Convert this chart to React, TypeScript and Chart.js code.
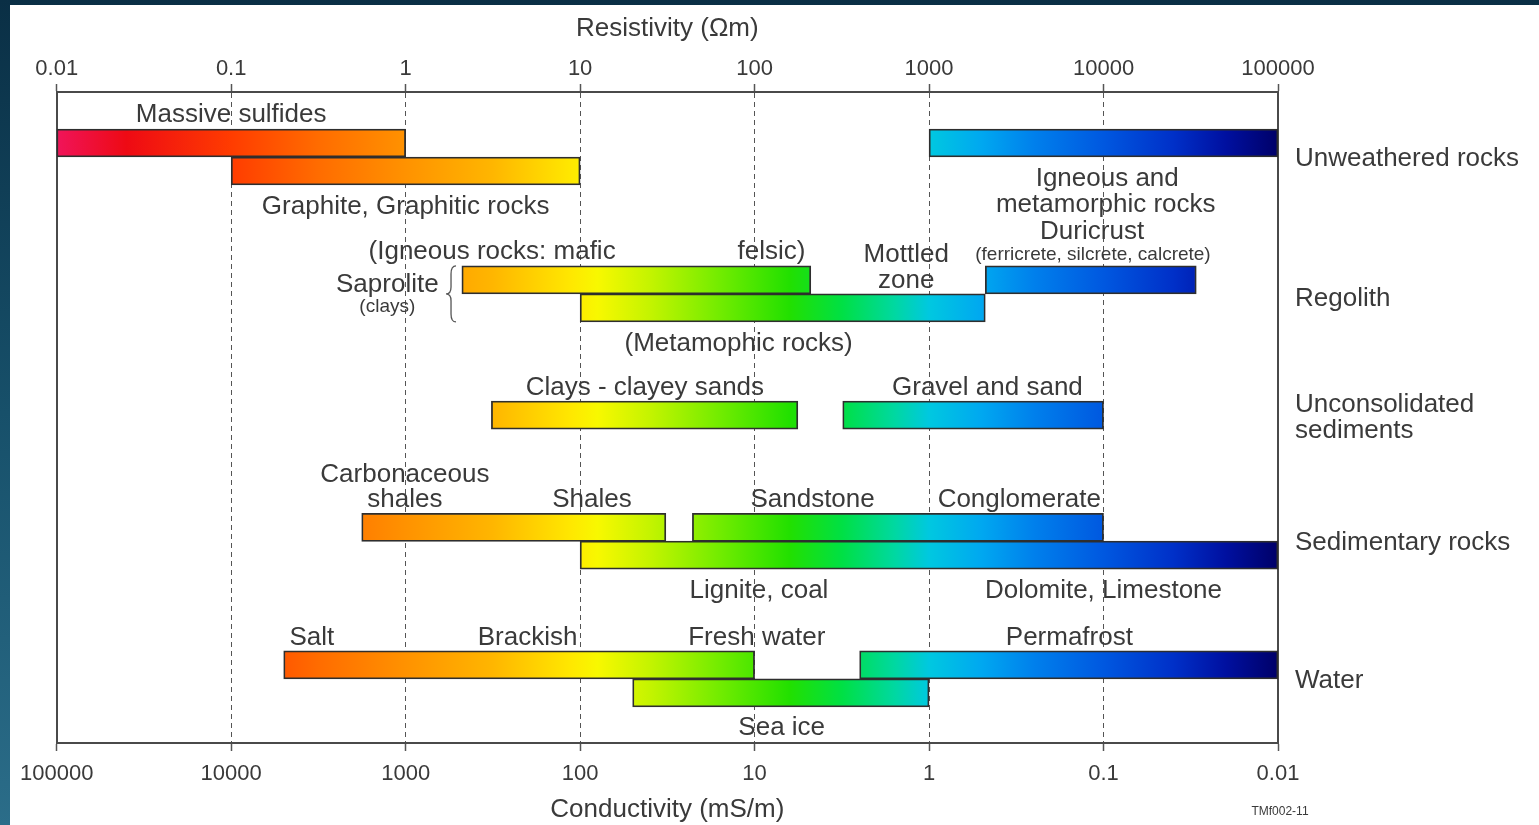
import React, { useEffect, useRef } from "react";
import { Chart, registerables } from "chart.js";

Chart.register(...registerables);

const FONT = '"Liberation Sans", Arial, Helvetica, sans-serif';
const TEXT = "#3a3a3a";
const LINE = "#4a4a4a";

// Axis decades
const RES_TICKS = [0.01, 0.1, 1, 10, 100, 1000, 10000, 100000]; // Ωm
const COND_TICKS = [100000, 10000, 1000, 100, 10, 1, 0.1, 0.01]; // mS/m

// Bars: resistivity range (Ωm) and lane (row position, in bar-height units from the top)
const BAR_NAMES = [
  "Massive sulfides",
  "Graphite, Graphitic rocks",
  "Unweathered igneous and metamorphic rocks",
  "Saprolite (igneous)",
  "Saprolite (metamorphic)",
  "Duricrust",
  "Clays - clayey sands",
  "Gravel and sand",
  "Carbonaceous shales / Shales",
  "Sandstone / Conglomerate",
  "Lignite, coal / Dolomite, Limestone",
  "Salt / Brackish / Fresh water",
  "Permafrost",
  "Sea ice",
];
const BAR_LOW = [0.01, 0.1, 1000, 2.1, 10, 2100, 3.1, 320, 0.56, 44, 10, 0.2, 400, 20];
const BAR_HIGH = [1, 10, 100000, 210, 2100, 34000, 177, 10000, 31, 10000, 100000, 100, 100000, 1000];
const BAR_LANE = [1.82, 2.82, 1.82, 6.71, 7.71, 6.71, 11.54, 11.54, 15.55, 15.55, 16.54, 20.46, 20.46, 21.46];
const LANE_MAX = 23.25;

// Group labels on the right
const GROUPS: (string | string[])[] = [
  "Unweathered rocks",
  "Regolith",
  ["Unconsolidated", "sediments"],
  "Sedimentary rocks",
  "Water",
];
const GROUP_LANE = [2.39, 7.39, 11.64, 16.11, 21.03];

// Text annotations: text, resistivity (Ωm) of centre, lane
const NOTE_TEXT = [
  "Massive sulfides",
  "Graphite, Graphitic rocks",
  "Igneous and",
  "metamorphic rocks",
  "Duricrust",
  "(ferricrete, silcrete, calcrete)",
  "(Igneous rocks: mafic",
  "felsic)",
  "Mottled",
  "zone",
  "Saprolite",
  "(clays)",
  "(Metamophic rocks)",
  "Clays - clayey sands",
  "Gravel and sand",
  "Carbonaceous",
  "shales",
  "Shales",
  "Sandstone",
  "Conglomerate",
  "Lignite, coal",
  "Dolomite, Limestone",
  "Salt",
  "Brackish",
  "Fresh water",
  "Permafrost",
  "Sea ice",
];
const NOTE_X = [0.1, 1.0, 10500, 10300, 8600, 8700, 3.13, 125, 740, 740, 0.785, 0.785, 81, 23.5, 2160, 0.99, 0.99, 11.7, 215, 3290, 106, 10000, 0.29, 5.0, 103, 6370, 143];
const NOTE_LANE = [0.82, 4.11, 3.11, 4.03, 5.0, 5.8, 5.71, 5.71, 5.82, 6.75, 6.89, 7.68, 9.0, 10.57, 10.57, 13.67, 14.57, 14.57, 14.57, 14.57, 17.82, 17.82, 19.5, 19.5, 19.5, 19.5, 22.71];
const NOTE_SMALL = [5, 11];

// Saprolite brace: resistivity position and lane span
const BRACE_X = 1.82;
const BRACE_LANES = [6.21, 8.21];

// Colour map along resistivity (log10 Ωm -> colour)
const COLOR_STOPS: [number, string][] = [
  [-2, "#f0145a"],
  [-1.6, "#ee0a14"],
  [-1.0, "#ff3c00"],
  [-0.5, "#ff6c00"],
  [0, "#ff9200"],
  [0.5, "#ffb600"],
  [0.95, "#ffe800"],
  [1.1, "#f8f800"],
  [1.4, "#c4f400"],
  [1.8, "#72ec00"],
  [2.2, "#22e000"],
  [2.5, "#00e044"],
  [2.8, "#00d8a0"],
  [3.0, "#00c8e0"],
  [3.3, "#00a8f0"],
  [3.6, "#0080ec"],
  [4.0, "#0058e0"],
  [4.4, "#0030c8"],
  [4.7, "#0010a0"],
  [5.0, "#000068"],
];

function barFill(chart: any) {
  const area = chart.chartArea;
  if (!area) return "#888";
  const xs = chart.scales.x;
  const g = chart.ctx.createLinearGradient(area.left, 0, area.right, 0);
  const w = area.right - area.left;
  COLOR_STOPS.forEach(([lg, col]) => {
    const off = (xs.getPixelForValue(Math.pow(10, lg)) - area.left) / w;
    g.addColorStop(Math.min(1, Math.max(0, off)), col);
  });
  return g;
}

const notesPlugin = {
  id: "notes",
  afterDatasetsDraw(chart: any) {
    const { ctx, chartArea } = chart;
    const xs = chart.scales.x;
    const ys = chart.scales.y;
    ctx.save();
    ctx.fillStyle = TEXT;
    ctx.textAlign = "center";
    ctx.textBaseline = "middle";
    NOTE_TEXT.forEach((t, i) => {
      const small = NOTE_SMALL.includes(i);
      ctx.font = `${small ? 19 : 26}px ${FONT}`;
      ctx.fillText(t, xs.getPixelForValue(NOTE_X[i]), ys.getPixelForValue(NOTE_LANE[i]));
    });

    // curly brace
    const bx = xs.getPixelForValue(BRACE_X);
    const y0 = ys.getPixelForValue(BRACE_LANES[0]);
    const y1 = ys.getPixelForValue(BRACE_LANES[1]);
    const ym = (y0 + y1) / 2;
    const xr = bx + 5;
    const xl = bx - 5;
    ctx.strokeStyle = "#555";
    ctx.lineWidth = 1.3;
    ctx.beginPath();
    ctx.moveTo(xr, y0);
    ctx.quadraticCurveTo(bx, y0, bx, y0 + 8);
    ctx.lineTo(bx, ym - 7);
    ctx.quadraticCurveTo(bx, ym, xl, ym);
    ctx.quadraticCurveTo(bx, ym, bx, ym + 7);
    ctx.lineTo(bx, y1 - 8);
    ctx.quadraticCurveTo(bx, y1, xr, y1);
    ctx.stroke();

    // figure code
    ctx.font = `12px "Liberation Sans Narrow", ${FONT}`;
    ctx.fillText("TMf002-11", chartArea.right + 2, chartArea.bottom + 69);
    ctx.restore();
  },
};

export default function App() {
  const ref = useRef<HTMLCanvasElement>(null);

  useEffect(() => {
    document.body.style.margin = "0";
    const canvas = ref.current;
    if (!canvas) return;
    const chart = new Chart(canvas, {
      type: "bar",
      data: {
        datasets: [
          {
            label: "Ranges",
            data: BAR_LOW.map((lo, i) => ({ x: [lo, BAR_HIGH[i]], y: BAR_LANE[i] })) as any,
            backgroundColor: (c: any) => barFill(c.chart),
            borderColor: "#2e2e2e",
            borderWidth: 1.8,
            borderSkipped: false,
            barThickness: 28,
            xAxisID: "x",
            yAxisID: "y",
          } as any,
        ],
      },
      options: {
        indexAxis: "y",
        responsive: false,
        animation: false,
        layout: { padding: 0 },
        plugins: {
          legend: { display: false },
          tooltip: { enabled: false },
        },
        scales: {
          x: {
            type: "logarithmic",
            position: "top",
            min: 0.01,
            max: 100000,
            offset: false,
            afterBuildTicks: (s: any) => {
              s.ticks = RES_TICKS.map((v) => ({ value: v }));
            },
            afterFit: (s: any) => {
              s.height = 87;
            },
            ticks: {
              callback: (v: any) => String(v),
              color: TEXT,
              font: { family: FONT, size: 22 },
              padding: 2,
              maxRotation: 0,
              autoSkip: false,
            },
            grid: {
              color: (c: any) =>
                c.index === 0 || c.index === RES_TICKS.length - 1 ? "rgba(0,0,0,0)" : "#555",
              lineWidth: 1,
              tickColor: "#555",
              tickLength: 8,
              tickWidth: 1.5,
              drawTicks: true,
              offset: false,
            },
            border: { display: true, color: LINE, width: 2, dash: [5, 4] },
            title: {
              display: true,
              text: "Resistivity (Ωm)",
              color: TEXT,
              font: { family: FONT, size: 26 },
              padding: { top: 8, bottom: 0 },
            },
          } as any,
          x2: {
            type: "logarithmic",
            position: "bottom",
            min: 0.01,
            max: 100000,
            reverse: true,
            offset: false,
            afterBuildTicks: (s: any) => {
              s.ticks = COND_TICKS.map((v) => ({ value: v }));
            },
            afterFit: (s: any) => {
              s.height = 82;
            },
            ticks: {
              callback: (v: any) => String(v),
              color: TEXT,
              font: { family: FONT, size: 22 },
              padding: 10,
              maxRotation: 0,
              autoSkip: false,
            },
            grid: {
              drawOnChartArea: false,
              color: "#555",
              tickColor: "#555",
              tickLength: 8,
              tickWidth: 1.5,
              offset: false,
            },
            border: { display: true, color: LINE, width: 2 },
            title: {
              display: true,
              text: "Conductivity (mS/m)",
              color: TEXT,
              font: { family: FONT, size: 26 },
              padding: { top: 0, bottom: 0 },
            },
          } as any,
          y: {
            type: "linear",
            position: "left",
            min: 0,
            max: LANE_MAX,
            reverse: true,
            offset: false,
            bounds: "data",
            afterFit: (s: any) => {
              s.width = 45;
            },
            ticks: { display: false },
            grid: { display: false, drawTicks: false, offset: false },
            border: { display: true, color: LINE, width: 2 },
          } as any,
          y2: {
            type: "linear",
            position: "right",
            min: 0,
            max: LANE_MAX,
            reverse: true,
            offset: false,
            bounds: "data",
            afterBuildTicks: (s: any) => {
              s.ticks = GROUP_LANE.map((v) => ({ value: v }));
            },
            afterFit: (s: any) => {
              s.width = 261;
            },
            ticks: {
              callback: (_v: any, i: number) => GROUPS[i],
              color: TEXT,
              font: { family: FONT, size: 26, lineHeight: 1.0 },
              padding: 17,
              autoSkip: false,
              crossAlign: "near",
            },
            grid: { display: false, drawTicks: false, offset: false },
            border: { display: true, color: LINE, width: 2 },
          } as any,
        },
      },
      plugins: [notesPlugin],
    });
    return () => chart.destroy();
  }, []);

  return (
    <div
      style={{
        position: "relative",
        width: 1539,
        height: 825,
        overflow: "hidden",
        background: "linear-gradient(to bottom, #0a2f45 0%, #17506a 50%, #2b6d89 100%)",
      }}
    >
      <canvas
        ref={ref}
        width={1529}
        height={820}
        style={{ position: "absolute", left: 10, top: 5, background: "#ffffff", display: "block" }}
      />
    </div>
  );
}
